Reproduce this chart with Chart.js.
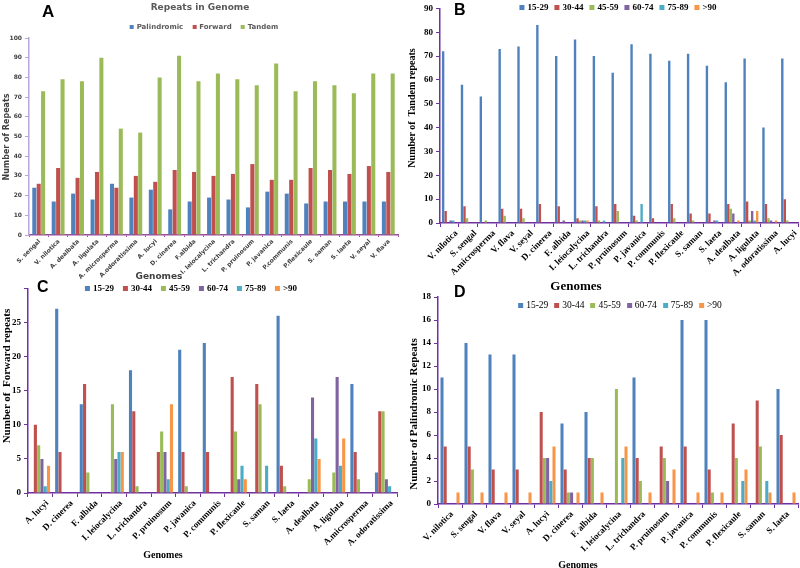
<!DOCTYPE html>
<html><head><meta charset="utf-8">
<script src="https://cdn.jsdelivr.net/npm/chart.js@4.4.1/dist/chart.umd.min.js"></script>
<style>
body{margin:0;background:#fff;width:800px;height:568px;position:relative;overflow:hidden}
.c{position:absolute}
.t{position:absolute;white-space:nowrap}
.lg{position:absolute;display:flex;align-items:center;white-space:nowrap}
.lg span.m{display:inline-block;margin-right:3px}
.lg span.i{display:inline-flex;align-items:center}
</style></head><body>
<div class="c" style="left:0;top:0;width:400px;height:280px"><canvas id="cA"></canvas></div>
<div class="c" style="left:400px;top:0;width:400px;height:282px"><canvas id="cB"></canvas></div>
<div class="c" style="left:0;top:280px;width:400px;height:288px"><canvas id="cC"></canvas></div>
<div class="c" style="left:400px;top:280px;width:400px;height:288px"><canvas id="cD"></canvas></div>

<div class="t" style="left:42px;top:2px;font:bold 17px 'Liberation Sans',Arial">A</div>
<div class="t" style="left:454px;top:1px;font:bold 16px 'Liberation Sans',Arial">B</div>
<div class="t" style="left:37px;top:278px;font:bold 16px 'Liberation Sans',Arial">C</div>
<div class="t" style="left:454px;top:283px;font:bold 16px 'Liberation Sans',Arial">D</div>

<div class="t" id="titleA" style="left:200px;top:7px;transform:translate(-50%,-50%);font:bold 9px 'DejaVu Sans';color:#595959">Repeats in Genome</div>
<div class="lg" id="lgA" style="left:204px;top:27px;transform:translate(-50%,-50%);font:bold 7px 'DejaVu Sans';color:#595959"></div>
<div class="lg" id="lgB" style="left:618px;top:7px;transform:translate(-50%,-50%);font:bold 9px 'Liberation Serif';color:#000"></div>
<div class="lg" id="lgC" style="left:191px;top:288px;transform:translate(-50%,-50%);font:bold 9px 'Liberation Serif';color:#000"></div>
<div class="lg" id="lgD" style="left:620px;top:305px;transform:translate(-50%,-50%);font:9.5px 'Liberation Serif';color:#000"></div>

<div class="t" style="left:6px;top:137px;transform:translate(-50%,-50%) rotate(-90deg);font:bold 8px 'DejaVu Sans';color:#404040">Number of Repeats</div>
<div class="t" style="left:159px;top:276px;transform:translate(-50%,-50%);font:bold 9px 'DejaVu Sans';color:#404040">Genomes</div>
<div class="t" style="left:411px;top:108px;transform:translate(-50%,-50%) rotate(-90deg);font:bold 10px 'Liberation Serif'">Number of&nbsp;&nbsp;Tandem repeats</div>
<div class="t" style="left:576px;top:286px;transform:translate(-50%,-50%);font:bold 13px 'Liberation Serif'">Genomes</div>
<div class="t" style="left:6px;top:376px;transform:translate(-50%,-50%) rotate(-90deg);font:bold 11px 'Liberation Serif'">Number of&nbsp;&nbsp;Forward repeats</div>
<div class="t" style="left:163px;top:554px;transform:translate(-50%,-50%);font:bold 10px 'Liberation Serif'">Genomes</div>
<div class="t" style="left:413px;top:414px;transform:translate(-50%,-50%) rotate(-90deg);font:bold 11px 'Liberation Serif'">Number of Palindromic Repeats</div>
<div class="t" style="left:578px;top:564px;transform:translate(-50%,-50%);font:bold 10px 'Liberation Serif'">Genomes</div>

<script>
// ---------- Panel A: repeats in genome ----------
const genomesA = ['S. sengal','V. nilotica','A. dealbata','A. ligulata','A. microsperma','A.odoratissima','A. lucyi','D. cinerea','F.albida','I. leiocalycina','L. trichandra','P. pruinosum','P. javanica','P.communis','P.flexicaule','S. saman','S. laeta','V. seyal','V. flava'];
const palindromicA = [24,17,21,18,26,19,23,13,17,19,18,14,22,21,16,17,17,17,17];
const forwardA     = [26,34,29,32,24,30,27,33,32,30,31,36,28,28,34,33,31,35,32];
const tandemA      = [73,79,78,90,54,52,80,91,78,82,79,76,87,73,78,76,72,82,82];
const seriesA = ['Palindromic','Forward','Tandem'];

// ---------- Panel B: tandem repeats by length ----------
const genomesB = ['V. nilotica','S. sengal','A.microsperma','V. flava','V. seyal','D. cinerea','F. albida','I. leiocalycina','L. trichandra','P. pruinosum','P. javanica','P. communis','P. flexicaule','S. saman','S. laeta','A. dealbata','A. ligulata','A. odoratissima','A. lucyi'];
const b15_29 = [72,58,53,73,74,83,70,77,70,63,75,71,68,71,66,59,69,40,69];
const b30_44 = [5,7,0,6,6,8,7,2,7,8,3,2,8,4,4,8,9,8,10];
const b45_59 = [0,2,1,3,2,0,0,1,1,5,1,0,2,1,0,6,1,2,1];
const b60_74 = [1,0,0,0,0,0,1,1,0,0,0,0,0,0,1,4,5,1,0];
const b75_89 = [1,0,0,0,0,0,0,1,1,0,8,0,0,0,1,0,1,0,0];
const b90    = [0,0,0,0,0,0,0,1,0,0,0,0,0,0,0,1,5,1,0];

// ---------- Panel C: forward repeats by length ----------
const genomesC = ['A. lucyi','D. cinerea','F. albida','I. leiocalycina','L. trichandra','P. pruinosum','P. javanica','P. communis','P. flexicaule','S. saman','S. laeta','A. dealbata','A. ligulata','A.microsperma','A. odoratissima'];
const c15_29 = [0,27,13,0,18,0,21,22,0,0,26,0,0,16,3];
const c30_44 = [10,6,16,0,12,6,6,6,17,16,4,0,0,6,12];
const c45_59 = [7,0,3,13,1,9,1,0,9,13,1,2,3,2,12];
const c60_74 = [5,0,0,5,0,6,0,0,2,0,0,14,17,0,2];
const c75_89 = [1,0,0,6,0,2,0,0,4,4,0,8,4,0,1];
const c90    = [4,0,0,6,0,13,0,0,2,0,0,5,8,0,0];

// ---------- Panel D: palindromic repeats by length ----------
const genomesD = ['V. nilotica','S. sengal','V. flava','V. seyal','A. lucyi','D. cinerea','F. albida','I. leiocalycina','L. trichandra','P. pruinosum','P. javanica','P. communis','P. flexicaule','S. saman','S. laeta'];
const d15_29 = [11,14,13,13,0,7,8,0,11,0,16,16,0,0,10];
const d30_44 = [5,5,3,3,8,3,4,0,4,5,5,3,7,9,6];
const d45_59 = [0,3,0,0,4,1,4,10,2,4,0,1,4,5,0];
const d60_74 = [0,0,0,0,4,1,0,0,0,2,0,0,0,0,0];
const d75_89 = [0,0,0,0,2,0,0,4,0,0,0,0,2,2,0];
const d90    = [1,1,1,1,5,1,1,5,1,3,1,1,3,1,1];

const lengthClasses = ['15-29','30-44','45-59','60-74','75-89','>90'];
const colors = ['#4F81BD','#C0504D','#9BBB59','#8064A2','#4BACC6','#F79646'];

function legend(id, names, size, gap){
  const el = document.getElementById(id);
  names.forEach((n,i)=>{
    const s = document.createElement('span'); s.className='i';
    if(i>0) s.style.marginLeft = gap+'px';
    const m = document.createElement('span'); m.className='m';
    m.style.width=size+'px'; m.style.height=size+'px'; m.style.background=colors[i];
    s.appendChild(m); s.appendChild(document.createTextNode(n));
    el.appendChild(s);
  });
}
legend('lgA', seriesA, 4, 9);
legend('lgB', lengthClasses, 5, 6);
legend('lgC', lengthClasses, 5, 9);
legend('lgD', lengthClasses, 5, 6);

function ds(arrs, names){
  return arrs.map((a,i)=>({label:names[i], data:a, backgroundColor:colors[i], borderWidth:0}));
}

function make(id, labels, datasets, o){
  return new Chart(document.getElementById(id), {
    type:'bar',
    data:{labels, datasets},
    options:{
      responsive:true, maintainAspectRatio:false, animation:false,
      layout:{padding:o.pad},
      datasets:{bar:{categoryPercentage:o.cat, barPercentage:o.bar}},
      plugins:{legend:{display:false}, tooltip:{enabled:false}},
      scales:{
        x:{
          afterFit:s=>{s.height=o.xh;},
          border:{color:o.xAxisColor, width:1.5},
          grid:{drawOnChartArea:false, offset:true, tickLength:o.xtl, color:o.xAxisColor},
          ticks:{autoSkip:false, minRotation:45, maxRotation:45, padding:1, labelOffset:o.lo, color:o.tc, font:o.xfont}
        },
        y:{
          min:0, max:o.max,
          afterFit:s=>{s.width=o.yw;},
          border:{color:o.yAxisColor, width:1.5},
          grid:{drawOnChartArea:false, tickLength:4, color:o.yAxisColor},
          ticks:{stepSize:o.step, padding:3, color:o.tc, font:o.yfont,
                 callback:v=> (o.hideTop && v===o.max) ? '' : v}
        }
      }
    }
  });
}

make('cA', genomesA, ds([palindromicA,forwardA,tandemA], seriesA), {
  pad:{top:38,right:2,left:0,bottom:0}, xh:45, yw:29, max:100, step:10, cat:0.68, bar:0.92, lo:1, xtl:2,
  xAxisColor:'#9b4f9b', yAxisColor:'#b8a6dc', tc:'#404040',
  xfont:{family:'DejaVu Sans', weight:'bold', size:6}, yfont:{family:'DejaVu Sans', weight:'bold', size:6}
});
make('cB', genomesB, ds([b15_29,b30_44,b45_59,b60_74,b75_89,b90], lengthClasses), {
  pad:{top:5,right:2,left:0,bottom:0}, xh:59, yw:40, max:90, step:10, cat:0.8, bar:0.95, lo:7, xtl:4,
  xAxisColor:'#7030A0', yAxisColor:'#7030A0', tc:'#000',
  xfont:{family:'Liberation Serif', weight:'bold', size:9}, yfont:{family:'Liberation Serif', weight:'bold', size:9}
});
make('cC', genomesC, ds([c15_29,c30_44,c45_59,c60_74,c75_89,c90], lengthClasses), {
  pad:{top:5,right:3,left:0,bottom:0}, xh:75, yw:28, max:30, step:5, hideTop:true, cat:0.8, bar:0.95, lo:7, xtl:4,
  xAxisColor:'#7030A0', yAxisColor:'#7030A0', tc:'#000',
  xfont:{family:'Liberation Serif', weight:'bold', size:9}, yfont:{family:'Liberation Serif', weight:'bold', size:9}
});
make('cD', genomesD, ds([d15_29,d30_44,d45_59,d60_74,d75_89,d90], lengthClasses), {
  pad:{top:17,right:2,left:0,bottom:0}, xh:64, yw:38, max:18, step:2, cat:0.8, bar:0.95, lo:2, xtl:4,
  xAxisColor:'#7030A0', yAxisColor:'#7030A0', tc:'#000',
  xfont:{family:'Liberation Serif', weight:'bold', size:9}, yfont:{family:'Liberation Serif', weight:'bold', size:9}
});
</script>
</body></html>
